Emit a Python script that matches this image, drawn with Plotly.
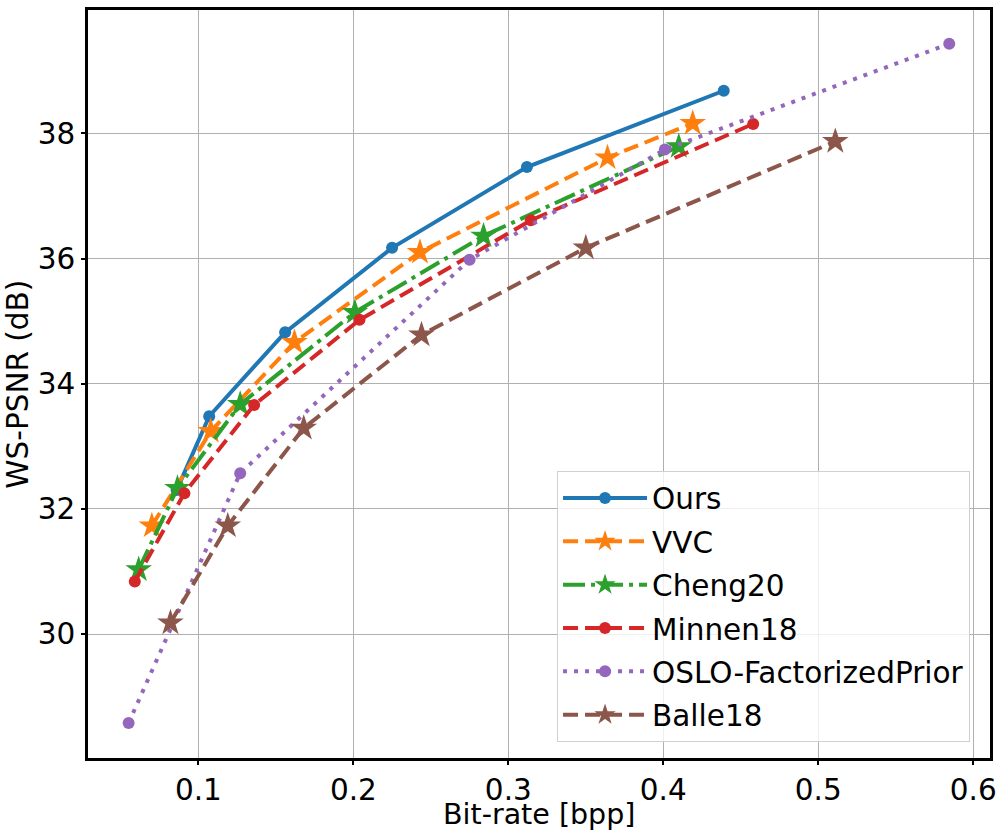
import plotly.graph_objects as go

# rate-distortion points
ours_bpp = [0.086, 0.107, 0.156, 0.225, 0.312, 0.439]
ours_psnr = [32.30, 33.48, 34.82, 36.17, 37.46, 38.68]

vvc_bpp = [0.070, 0.108, 0.162, 0.243, 0.364, 0.419]
vvc_psnr = [31.73, 33.24, 34.66, 36.10, 37.61, 38.16]

cheng_bpp = [0.0615, 0.0865, 0.127, 0.201, 0.284, 0.410]
cheng_psnr = [31.03, 32.33, 33.67, 35.14, 36.36, 37.79]

minnen_bpp = [0.059, 0.091, 0.136, 0.204, 0.3145, 0.458]
minnen_psnr = [30.84, 32.25, 33.66, 35.02, 36.61, 38.15]

oslo_bpp = [0.055, 0.127, 0.275, 0.401, 0.5845]
oslo_psnr = [28.58, 32.57, 35.98, 37.74, 39.43]

balle_bpp = [0.082, 0.119, 0.168, 0.244, 0.350, 0.511]
balle_psnr = [30.18, 31.73, 33.29, 34.78, 36.17, 37.87]

x_ticks = [0.1, 0.2, 0.3, 0.4, 0.5, 0.6]
y_ticks = [30, 32, 34, 36, 38]

FONT = "DejaVu Sans"
FS = 29.5
LW = 4

series = [
    ("Ours", ours_bpp, ours_psnr, "#1f77b4", "solid", "circle", 12),
    ("VVC", vvc_bpp, vvc_psnr, "#ff7f0e", "15px,7px", "star", 20),
    ("Cheng20", cheng_bpp, cheng_psnr, "#2ca02c", "22px,6px,4px,6px", "star", 20),
    ("Minnen18", minnen_bpp, minnen_psnr, "#d62728", "15px,7px", "circle", 12),
    ("OSLO-FactorizedPrior", oslo_bpp, oslo_psnr, "#9467bd", "4px,7px", "circle", 12),
    ("Balle18", balle_bpp, balle_psnr, "#8c564b", "15px,7px", "star", 20),
]

fig = go.Figure()
for name, xs, ys, color, dash, symbol, msize in series:
    fig.add_trace(
        go.Scatter(
            x=xs,
            y=ys,
            name=name,
            legendgroup=name,
            mode="lines+markers",
            line=dict(color=color, width=LW, dash=dash),
            marker=dict(color=color, symbol=symbol, size=msize, line=dict(width=0)),
        )
    )

axis_style = dict(
    automargin=False,
    showgrid=True,
    gridcolor="#b0b0b0",
    gridwidth=1,
    showline=True,
    linecolor="black",
    linewidth=2.5,
    mirror=True,
    ticks="outside",
    ticklen=4,
    tickwidth=1.5,
    tickcolor="black",
    zeroline=False,
    tickfont=dict(size=FS, color="black", family=FONT),
)

fig.update_xaxes(
    range=[0.0288, 0.6108],
    tickvals=x_ticks,
    ticktext=[str(v) for v in x_ticks],
    **axis_style,
)
fig.update_yaxes(
    range=[28.02, 39.97],
    tickvals=y_ticks,
    ticktext=[str(v) for v in y_ticks],
    **axis_style,
)

# axis titles placed as annotations so they sit where the reference has them
fig.add_annotation(
    text="Bit-rate [bpp]", xref="paper", yref="paper", x=0.5, y=-0.075,
    xanchor="center", yanchor="middle", showarrow=False,
    font=dict(size=28.5, color="black", family=FONT),
)
fig.add_annotation(
    text="WS-PSNR (dB)", xref="paper", yref="paper", x=-0.078, y=0.5,
    xanchor="center", yanchor="middle", textangle=-90, showarrow=False,
    font=dict(size=FS, color="black", family=FONT),
)

fig.update_layout(
    width=1000,
    height=831,
    margin=dict(l=88, r=10, t=10, b=73, autoexpand=False),
    plot_bgcolor="white",
    paper_bgcolor="white",
    font=dict(family=FONT, color="black"),
    legend=dict(
        x=0.52,
        y=0.021,
        xanchor="left",
        yanchor="bottom",
        bgcolor="rgba(255,255,255,0.8)",
        bordercolor="#d0d0d0",
        borderwidth=1,
        font=dict(size=FS, family=FONT, color="black"),
        itemwidth=84,
        tracegroupgap=2,
    ),
)

fig.write_html(
    "out.html",
    config={"displayModeBar": False},
    post_script="document.body.style.margin='0';",
)
